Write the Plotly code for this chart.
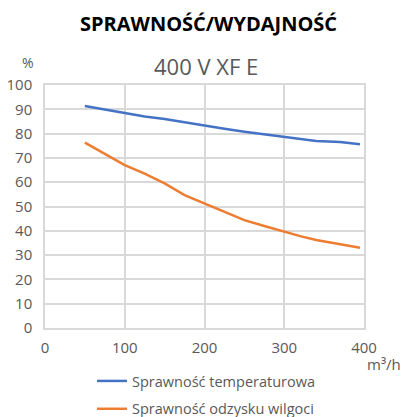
import plotly.graph_objects as go

airflow = [50, 75, 100, 125, 150, 175, 200, 225, 250, 275, 300, 320, 340, 370, 395]
temp_eff = [91.4, 90.0, 88.3, 87.0, 86.0, 84.6, 83.1, 82.0, 80.8, 79.7, 78.7, 78.0, 77.0, 76.5, 75.6]
hum_eff = [76.3, 71.5, 67.0, 63.5, 59.5, 54.7, 51.3, 47.8, 44.4, 42.0, 39.6, 37.8, 36.2, 34.5, 33.0]

series_names = ["Sprawność temperaturowa", "Sprawność odzysku wilgoci"]
x_ticks = [0, 100, 200, 300, 400]
y_ticks = list(range(0, 101, 10))

L, R, T, B = 45, 51, 85, 89
FW, FH = 415, 417
W = FW - L - R
H = FH - T - B

def py(pix):
    return (FH - B - pix) / H

def px(pix):
    return (pix - L) / W

fig = go.Figure()
fig.add_trace(go.Scatter(x=airflow, y=temp_eff, mode="lines", name=series_names[0],
                         legendgroup="a", line=dict(color="#4472C4", width=2.5)))
fig.add_trace(go.Scatter(x=airflow, y=hum_eff, mode="lines", name=series_names[1],
                         legendgroup="b", line=dict(color="#ED7D31", width=2.5)))

tick_font = dict(family="Open Sans", size=15, color="#595959")
grid = "#d9d9d9"

fig.update_layout(
    width=FW, height=FH,
    margin=dict(l=L, r=R, t=T, b=B, autoexpand=False),
    paper_bgcolor="white", plot_bgcolor="white",
    showlegend=True,
    legend=dict(orientation="v", x=px(92), xanchor="left", y=py(365), yanchor="top",
                font=dict(family="Open Sans", size=14.5, color="#595959"),
                tracegroupgap=6, bgcolor="rgba(0,0,0,0)"),
    xaxis=dict(range=[0, 400], tickvals=x_ticks, showgrid=True, gridcolor=grid, gridwidth=1.5,
               showline=True, linecolor=grid, linewidth=1.5, mirror=True, zeroline=False,
               tickfont=tick_font, ticks="", ticklabelstandoff=5, automargin=False,
               fixedrange=True),
    yaxis=dict(range=[0, 100], tickvals=y_ticks, showgrid=True, gridcolor=grid, gridwidth=1.5,
               showline=True, linecolor=grid, linewidth=1.5, mirror=True, zeroline=False,
               tickfont=tick_font, ticks="", ticklabelstandoff=8, automargin=False,
               fixedrange=True),
)

fig.add_annotation(text="<b>SPRAWNOŚĆ/WYDAJNOŚĆ</b>", x=px(208), y=py(23), xref="paper", yref="paper",
                   xanchor="center", yanchor="middle", showarrow=False,
                   font=dict(family="Open Sans", size=20, color="#000000"))
fig.add_annotation(text="400 V XF E", x=px(206), y=py(66), xref="paper", yref="paper",
                   xanchor="center", yanchor="middle", showarrow=False,
                   font=dict(family="Open Sans", size=22, color="#595959"))
fig.add_annotation(text="%", x=px(28), y=py(63), xref="paper", yref="paper",
                   xanchor="center", yanchor="middle", showarrow=False,
                   font=dict(family="Open Sans", size=14, color="#595959"))
fig.add_annotation(text="m³/h", x=px(384), y=py(364), xref="paper", yref="paper",
                   xanchor="center", yanchor="middle", showarrow=False,
                   font=dict(family="Open Sans", size=15, color="#595959"))

fig.write_html("out.html", config={"displayModeBar": False},
               post_script="document.body.style.margin='0';document.body.style.overflow='hidden';")
